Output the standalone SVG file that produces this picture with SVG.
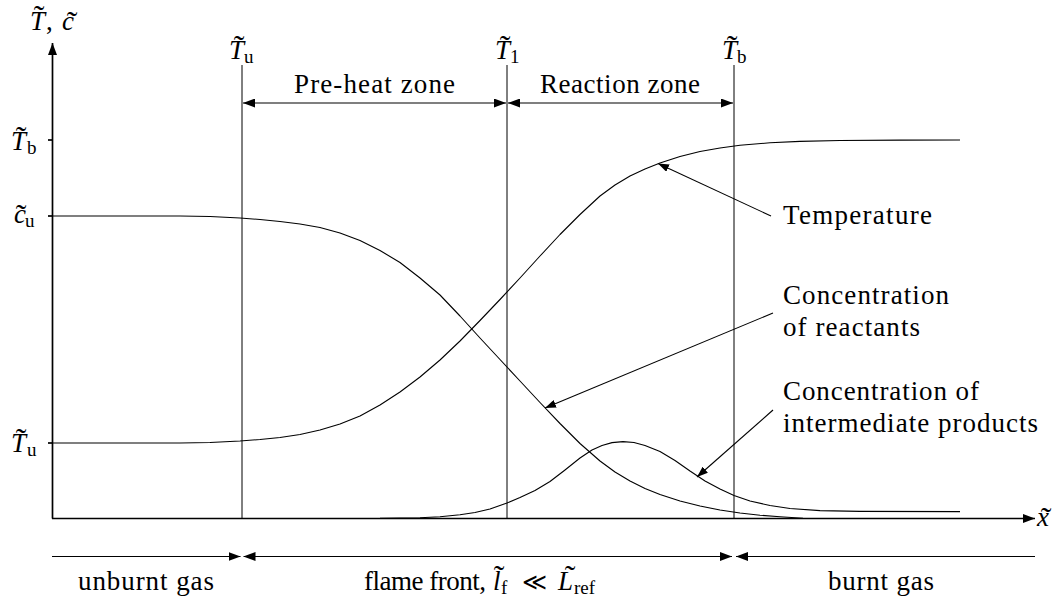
<svg xmlns="http://www.w3.org/2000/svg" width="1063" height="601" viewBox="0 0 1063 601">
<defs>
<style>
text{font-family:"Liberation Serif","DejaVu Serif",serif;font-size:27px;fill:#000}
.i{font-style:italic}
.s{font-size:19px}
.tl{font-size:32px;text-anchor:middle}
.ax{stroke:#000;stroke-width:1.7;fill:none}
.vl{stroke:#000;stroke-width:1;fill:none}
.cv{stroke:#000;stroke-width:1.1;fill:none;stroke-linejoin:round}
.ar{stroke:#000;stroke-width:1.1;fill:none}
</style>
<marker id="ah" viewBox="0 0 12 9" refX="12" refY="4.5" markerWidth="12" markerHeight="9" markerUnits="userSpaceOnUse" orient="auto-start-reverse"><path d="M0,0 L12,4.5 L0,9 Z" fill="#000"/></marker>
<marker id="ahs" viewBox="0 0 11 8" refX="11" refY="4" markerWidth="11" markerHeight="8" markerUnits="userSpaceOnUse" orient="auto-start-reverse"><path d="M0,0 L11,4 L0,8 Z" fill="#000"/></marker>
</defs>
<rect width="1063" height="601" fill="#fff"/>

<g id="axes">
<line class="ax" x1="52.5" y1="518.5" x2="52.5" y2="43" marker-end="url(#ah)"/>
<line class="ax" x1="52" y1="518.5" x2="1035" y2="518.5" marker-end="url(#ah)"/>
<line class="ax" x1="48" y1="140" x2="52" y2="140"/>
<line class="ax" x1="48" y1="216" x2="52" y2="216"/>
<line class="ax" x1="48" y1="443" x2="52" y2="443"/>
</g>

<g id="axis-labels">
<text class="i" x="30" y="30">T</text><text class="tl" x="39" y="27">˜</text>
<text x="46" y="30">,</text>
<text class="i" x="62" y="30">c</text><text class="tl" x="72" y="33">˜</text>
<text class="i" x="1037" y="526">x</text><text class="tl" x="1046" y="529">˜</text>
<text class="i" x="11" y="150">T</text><text class="tl" x="21" y="148">˜</text><text class="s" x="27" y="154">b</text>
<text class="i" x="14" y="223">c</text><text class="tl" x="21" y="226">˜</text><text class="s" x="25" y="227">u</text>
<text class="i" x="11" y="452">T</text><text class="tl" x="21" y="450">˜</text><text class="s" x="27" y="456">u</text>
</g>

<g id="zone-lines">
<line class="vl" x1="242" y1="65" x2="242" y2="518"/>
<line class="vl" x1="507" y1="65" x2="507" y2="518"/>
<line class="vl" x1="734" y1="65" x2="734" y2="518"/>
</g>

<g id="zone-labels">
<text class="i" x="229" y="59">T</text><text class="tl" x="239" y="57">˜</text><text class="s" x="244" y="63">u</text>
<text class="i" x="495" y="59">T</text><text class="tl" x="505" y="57">˜</text><text class="s" x="510" y="63">1</text>
<text class="i" x="722" y="59">T</text><text class="tl" x="732" y="57">˜</text><text class="s" x="737" y="63">b</text>
<text x="294" y="93" textLength="161">Pre-heat zone</text>
<text x="540" y="93" textLength="160">Reaction zone</text>
</g>

<g id="curves">
<path id="temperature" class="cv" d="M52,443 L180,443 L210,442.5 L240,441 L260,439.5 L280,437.5 L300,434.5 L320,430 L340,424 L360,416 L380,405 L400,392 L420,377 L440,360 L460,341 L480,320.5 L500,299.5 L520,278 L540,256 L560,234.5 L580,214.5 L600,196 L615,185 L630,176 L645,169 L660,163 L680,156.5 L700,151.5 L720,148 L740,145.3 L770,142.8 L800,141.4 L840,140.5 L900,140.1 L960,140"/>
<path id="reactants" class="cv" d="M52,216 L180,216 L210,216.5 L240,218 L260,219.5 L280,221.5 L300,224 L320,227.5 L340,233 L360,240.5 L380,250.5 L400,262.5 L420,278 L440,295 L460,316 L480,338 L500,359.5 L520,381 L540,402.5 L560,423.5 L580,443.5 L600,461 L615,472 L630,481 L645,488.5 L660,494.5 L680,501 L700,506 L720,510 L740,513 L760,515.2 L780,516.8 L803,518.3"/>
<path id="intermediates" class="cv" d="M380,518.3 L420,517.8 L440,516.8 L460,514.8 L475,512.5 L490,509 L507,503 L520,497.5 L535,490.5 L550,481.5 L565,470 L580,458 L592,450 L602,445.5 L612,442.6 L623,441.6 L634,442.5 L645,445.5 L660,451.5 L675,460.5 L690,471 L705,481 L720,489 L734,495.5 L750,501 L770,505.5 L790,508.5 L820,510.6 L860,511.4 L960,511.6"/>
</g>

<g id="connectors">
<line class="ar" x1="243" y1="103" x2="506" y2="103" marker-start="url(#ah)" marker-end="url(#ah)"/>
<line class="ar" x1="508" y1="103" x2="733" y2="103" marker-start="url(#ah)" marker-end="url(#ah)"/>
<line class="ar" x1="52" y1="556.5" x2="240.5" y2="556.5" marker-end="url(#ah)"/>
<line class="ar" x1="243.5" y1="556.5" x2="732" y2="556.5" marker-start="url(#ah)" marker-end="url(#ah)"/>
<line class="ar" x1="736" y1="556.5" x2="1035" y2="556.5" marker-start="url(#ah)"/>
<line class="ar" x1="771" y1="216" x2="658" y2="163.5" marker-end="url(#ahs)"/>
<line class="ar" x1="773" y1="313" x2="545" y2="408" marker-end="url(#ahs)"/>
<line class="ar" x1="773" y1="410" x2="697" y2="477" marker-end="url(#ahs)"/>
</g>

<g id="curve-labels">
<text x="783" y="224" textLength="149">Temperature</text>
<text x="783" y="304" textLength="166">Concentration</text>
<text x="783" y="336" textLength="137">of reactants</text>
<text x="783" y="400" textLength="196">Concentration of</text>
<text x="783" y="432" textLength="255">intermediate products</text>
</g>

<g id="region-labels">
<text x="78" y="590" textLength="136">unburnt gas</text>
<text x="364" y="590" textLength="122">flame front,</text>
<text class="i" x="493" y="590">l</text><text class="tl" x="499" y="587">˜</text><text class="s" x="501" y="594">f</text>
<text x="534" y="590" style="font-size:24px;text-anchor:middle">≪</text>
<text class="i" x="558" y="590">L</text><text class="tl" x="570" y="587">˜</text><text class="s" x="574" y="594">ref</text>
<text x="828" y="590" textLength="106">burnt gas</text>
</g>
</svg>
